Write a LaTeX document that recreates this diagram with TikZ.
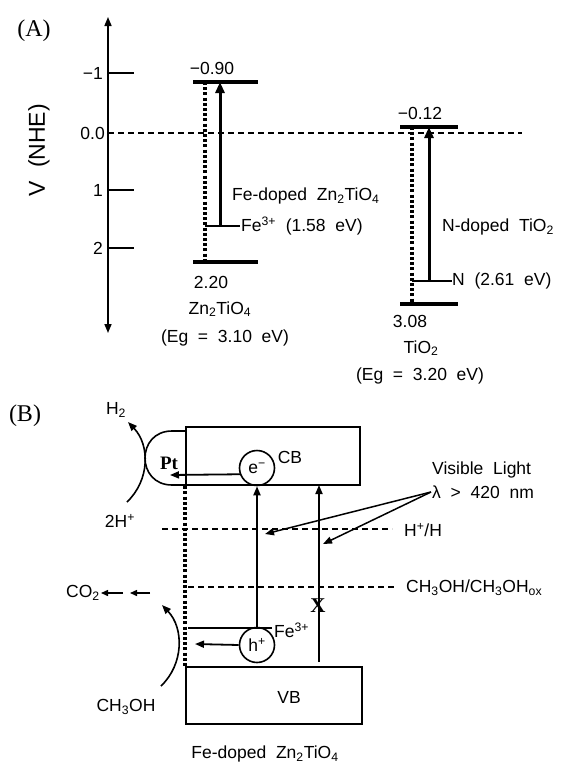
\documentclass[tikz,border=0pt]{standalone}
\usepackage{fontspec}
\setmainfont{Liberation Sans}[WordSpace=2]
\newfontfamily\romanfont{Liberation Serif}
\usetikzlibrary{arrows.meta}

\tikzset{
  txt/.style={font=\fontsize{17.5}{20}\selectfont,inner sep=1pt},
  panel/.style={font=\romanfont\fontsize{24}{26}\selectfont,inner sep=0pt},
  band/.style={line width=4pt},
  gapline/.style={line width=3.4pt,dash pattern=on 3pt off 2.2pt},
  thin/.style={line width=1.4pt},
  redox/.style={line width=1.3pt,dash pattern=on 6pt off 4pt},
  excite/.style={line width=3pt,-{Triangle[length=11pt,width=9pt]}},
  flow/.style={line width=1.8pt,-{Triangle[length=9pt,width=7pt]}},
  small flow/.style={line width=1.4pt,-{Triangle[length=7pt,width=6pt]}},
  carrier/.style={circle,draw,line width=1.6pt,minimum size=35pt,inner sep=0pt,font=\fontsize{17.5}{20}\selectfont},
  bandbox/.style={draw,line width=2.4pt,inner sep=0pt},
}

\begin{document}
\begin{tikzpicture}[x=1pt,y=-1pt]
\useasboundingbox (0,0) rectangle (560,763);
% ---- panel (A)
\node[panel] (tagA) at (34,31) {(A)};
\node[font=\fontsize{23}{25}\selectfont,rotate=90] (vnhe) at (39,150) {V (NHE)};
\draw[line width=1.6pt,{Triangle[length=9pt,width=7pt]}-{Triangle[length=9pt,width=7pt]}] (108,333) -- (108,17);
\foreach \y/\t [count=\i] in {73/−1,190/1,248/2}{
  \draw[line width=1.6pt] (108,\y) -- (134,\y);
  \node[txt,anchor=east] (tick\i) at (104,\y) {\t};
}
\node[txt,anchor=east] (tick0) at (106,133) {0.0};
\draw[redox] (108,133) -- (522,133);
% Zn2TiO4
\coordinate (zcb) at (220,82);
\coordinate (zfe) at (220,226);
\draw[band] (193,82) -- (258,82);
\draw[band] (193,262) -- (258,262);
\draw[gapline] (205,82) -- (205,262);
\draw[thin] (205,226) -- (240,226);
\draw[excite] (zfe) -- (zcb);
\node[txt] (zcbval) at (212,68) {−0.90};
\node[txt] (zvbval) at (211,282) {2.20};
\node[txt] (zname) at (220,309) {Zn\textsubscript{2}TiO\textsubscript{4}};
\node[txt] (zeg) at (225,338) {(Eg = 3.10 eV)};
\node[txt,anchor=west] (zdoped) at (231,196) {Fe-doped Zn\textsubscript{2}TiO\textsubscript{4}};
\node[txt,anchor=west] (felevel) at (240,226) {Fe\textsuperscript{3+} (1.58 eV)};
% TiO2
\coordinate (tcb) at (429,127);
\coordinate (tn) at (429,281);
\draw[band] (400,127) -- (458,127);
\draw[band] (400,304) -- (458,304);
\draw[gapline] (412,127) -- (412,304);
\draw[thin] (412,281) -- (452,281);
\draw[excite] (tn) -- (tcb);
\node[txt] (tcbval) at (420,113) {−0.12};
\node[txt] (tvbval) at (410,321) {3.08};
\node[txt] (tname) at (421,348) {TiO\textsubscript{2}};
\node[txt] (teg) at (420,376) {(Eg = 3.20 eV)};
\node[txt,anchor=west] (tdoped) at (441,227) {N-doped TiO\textsubscript{2}};
\node[txt,anchor=west] (nlevel) at (451,281) {N (2.61 eV)};
% ---- panel (B)
\node[panel] (tagB) at (25,416) {(B)};
\node[bandbox,minimum width=174pt,minimum height=58pt] (cb) at (273,456) {};
\node[bandbox,minimum width=176pt,minimum height=57pt] (vb) at (274,695.5) {};
\node[txt] (cblabel) at (290,457) {CB};
\node[txt] (vblabel) at (289,697) {VB};
\draw[line width=1.6pt] (186,431) -- (172,431) .. controls (136,431) and (136,485) .. (172,485) -- (186,485);
\node[font=\romanfont\bfseries\fontsize{19}{21}\selectfont] (pt) at (169,463) {Pt};
\node[txt] (htwo) at (116,410) {H\textsubscript{2}};
\node[txt] (twoH) at (120,521) {2H\textsuperscript{+}};
\coordinate (hin) at (127,502);
\coordinate (hout) at (128,422);
\draw[flow,line width=1.6pt] (hin) .. controls (150,480) and (150,445) .. (hout);
\draw[gapline] (cb.south west) -- (vb.north west);
% redox levels
\draw[redox] (162,529) -- (392,529);
\node[txt,anchor=west] (hplus) at (403,530) {H\textsuperscript{+}/H};
\draw[redox] (188,587) -- (397,587);
\node[txt,anchor=west] (meoh) at (405,588) {CH\textsubscript{3}OH/CH\textsubscript{3}OH\textsubscript{ox}};
% carriers
\draw[thin] (188,628) -- (272,628);
\node[txt,anchor=west] (feB) at (273,630) {Fe\textsuperscript{3+}};
\node[carrier] (elec) at (257,468) {e\textsuperscript{−}};
\node[carrier] (hole) at (257,645) {h\textsuperscript{+}};
\coordinate (ptin) at (170,475);
\coordinate (wall) at (195,644);
\draw[flow] (elec.200) -- (ptin);
\draw[flow] (hole.west) -- (wall);
\draw[flow] (hole.north) -- (elec.south);
\coordinate (vbtop) at (319,662);
\coordinate (cbbot) at (319,485);
\draw[flow] (vbtop) -- (cbbot);
\node[font=\romanfont\bfseries\fontsize{21}{23}\selectfont,inner sep=0pt] (xmark) at (318,606) {X};
% light
\node[txt,anchor=west] (vis) at (431,470) {Visible Light};
\node[txt,anchor=west] (lam) at (431,492) {λ > 420 nm};
\coordinate (hit1) at (265,534);
\coordinate (hit2) at (323,544);
\draw[flow,line width=1.5pt] (lam.west) -- (hit1);
\draw[flow,line width=1.5pt] (lam.west) -- (hit2);
% methanol oxidation
\node[txt,anchor=east] (co2) at (101,593) {CO\textsubscript{2}};
\draw[small flow] (123,593) -- (co2.east);
\draw[small flow] (150,593) -- (130,593);
\node[txt] (meohB) at (126,707) {CH\textsubscript{3}OH};
\coordinate (min) at (161,686);
\coordinate (mout) at (162,605);
\draw[flow,line width=1.6pt] (min) .. controls (184,664) and (184,628) .. (mout);
\node[txt] (caption) at (265,754) {Fe-doped Zn\textsubscript{2}TiO\textsubscript{4}};
\end{tikzpicture}
\end{document}
